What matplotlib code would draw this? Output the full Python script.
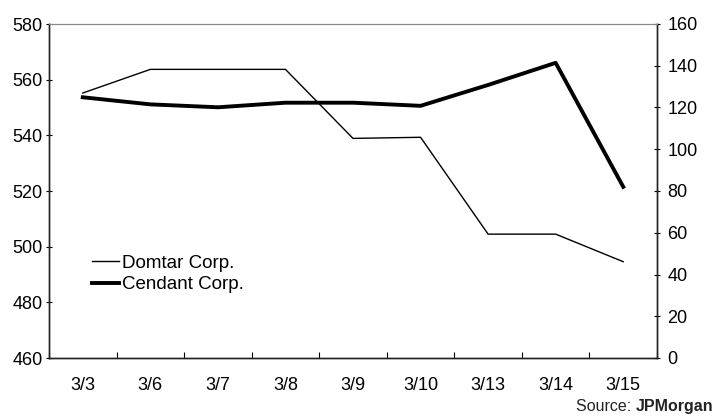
import numpy as np
import matplotlib
matplotlib.use("Agg")
import matplotlib.pyplot as plt

# datos
fechas = ["3/3", "3/6", "3/7", "3/8", "3/9", "3/10", "3/13", "3/14", "3/15"]
domtar = [555.2, 563.7, 563.7, 563.7, 538.9, 539.3, 504.5, 504.5, 494.6]
cendant = [124.9, 121.5, 120.1, 122.3, 122.3, 120.8, 130.8, 141.4, 82.0]

izq_ticks = [460, 480, 500, 520, 540, 560, 580]
der_ticks = [0, 20, 40, 60, 80, 100, 120, 140, 160]

plt.rcParams['font.family'] = ['Liberation Sans', 'DejaVu Sans']

fig = plt.figure(figsize=(7.28, 4.2), dpi=100)
ax = fig.add_axes([49 / 728, 1 - 358 / 420, 608 / 728, 334 / 420])
ax2 = ax.twinx()

x = np.arange(len(fechas))
l1, = ax.plot(x, domtar, color='black', lw=1.0, label='Domtar Corp.')
l2, = ax2.plot(x, cendant, color='black', lw=2.8, label='Cendant Corp.')

ax.set_xlim(-0.5, len(fechas) - 0.5)
ax.set_ylim(460, 580)
ax2.set_ylim(0, 160)
ax.set_yticks(izq_ticks)
ax2.set_yticks(der_ticks)

# ticks del eje x en los limites entre categorias
ax.set_xticks(np.arange(-0.5, len(fechas), 1.0))
ax.set_xticklabels([])
ax.set_xticks(x, minor=True)
ax.set_xticklabels(fechas, minor=True)
ax.tick_params(axis='x', which='minor', length=0, labelsize=13, pad=14)
ax.tick_params(axis='x', which='major', direction='in', length=4, width=0.8)
ax.tick_params(axis='y', direction='inout', length=5, width=0.8, labelsize=13, pad=2)
ax2.tick_params(axis='y', direction='inout', length=5, width=0.8, labelsize=13, pad=5)

for a in (ax, ax2):
    a.spines['top'].set_color('#888888')
    a.spines['top'].set_linewidth(0.8)
    for s in ('left', 'right', 'bottom'):
        a.spines[s].set_color('#222222')
        a.spines[s].set_linewidth(1.0)

leg = ax.legend(handles=[l1, l2], loc='upper left', bbox_to_anchor=(0.07, 0.31),
                frameon=False, fontsize=13.5, handlelength=1.45, handletextpad=0.2,
                labelspacing=0.25, borderpad=0, borderaxespad=0)

# fuente: "Source:" normal + "JPMorgan" en negrita
t_bold = fig.text(713 / 728, 1 - 411 / 420, "JPMorgan", ha='right', va='baseline',
                  fontsize=11.5, fontweight='bold', color='#222222')
fig.canvas.draw()
bb = t_bold.get_window_extent()
fig.text(bb.x0 / 728, 1 - 411 / 420, "Source: ", ha='right', va='baseline',
         fontsize=11.5, color='#222222')

fig.savefig("out.png", dpi=100)
